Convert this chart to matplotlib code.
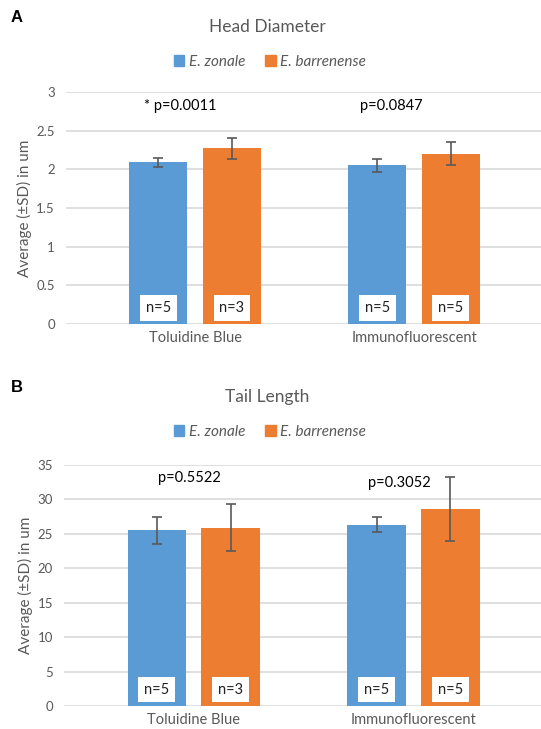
import numpy as np
import matplotlib.pyplot as plt
from matplotlib.patches import Patch
import matplotlib.transforms as mtransforms

plt.rcParams['font.family'] = ['Lato', 'DejaVu Sans']

groups = ['Toluidine Blue', 'Immunofluorescent']
species = ['E. zonale', 'E. barrenense']
colors = ['#5B9BD5', '#ED7D31']

# panel A: head diameter
head_mean = [[2.09, 2.05], [2.27, 2.20]]
head_sd = [[0.06, 0.09], [0.13, 0.15]]
head_n = [['n=5', 'n=5'], ['n=3', 'n=5']]
head_p = ['* p=0.0011', 'p=0.0847']

# panel B: tail length
tail_mean = [[25.5, 26.3], [25.9, 28.6]]
tail_sd = [[2.0, 1.1], [3.4, 4.6]]
tail_n = [['n=5', 'n=5'], ['n=3', 'n=5']]
tail_p = ['p=0.5522', 'p=0.3052']

grey = '#595959'
fig = plt.figure(figsize=(5.41, 7.29), dpi=100)
W, H = 541, 729


def px_axes(left, top, right, bottom):
    return fig.add_axes([left / W, 1 - bottom / H, (right - left) / W, (bottom - top) / H])


def panel(ax, means, sds, ns, pvals, ymax, ystep, p_pos, title, letter, title_y, leg_y):
    x = np.arange(len(groups))
    off = 0.168
    bw = 0.265
    for i in range(2):
        xs = x + (i * 2 - 1) * off
        ax.bar(xs, means[i], bw, color=colors[i], zorder=2)
        ax.errorbar(xs, means[i], yerr=sds[i], fmt='none', ecolor=grey,
                    elinewidth=1.2, capsize=3.5, capthick=1.2, zorder=3)
        trans = mtransforms.blended_transform_factory(ax.transData, ax.transAxes)
        for xx, lab in zip(xs, ns[i]):
            ax.text(xx, 0.068, lab, transform=trans, ha='center', va='center',
                    fontsize=10.5, color='#222222', zorder=4,
                    bbox=dict(boxstyle='square,pad=0.4', fc='white', ec='none'))
    for (px, py), lab in zip(p_pos, pvals):
        ax.text(px, py, lab, ha='center', va='center', fontsize=10.5, color='black', zorder=5)
    ax.set_xlim(-0.59, 1.58)
    ax.set_ylim(0, ymax)
    ax.set_yticks(np.arange(0, ymax + ystep / 2, ystep))
    ax.set_yticklabels(['%g' % v for v in np.arange(0, ymax + ystep / 2, ystep)])
    ax.yaxis.grid(True, color='#D9D9D9', lw=1.2, zorder=0)
    ax.set_axisbelow(True)
    for s in ax.spines.values():
        s.set_visible(False)
    ax.tick_params(axis='y', length=0, labelsize=9.5, labelcolor=grey, pad=8)
    ax.tick_params(axis='x', length=0, labelsize=10.5, labelcolor=grey, pad=5)
    ax.set_xticks(x)
    ax.set_xticklabels(groups)
    ax.set_ylabel('Average (±SD) in um', fontsize=11, color=grey, labelpad=3)
    fig.text(267 / W, 1 - title_y / H, title, ha='center', va='center', fontsize=12.5, color=grey)
    fig.text(17 / W, 1 - (title_y - 10) / H, letter, ha='center', va='center',
             fontsize=12, fontweight='bold', family='Liberation Sans', color='black')
    handles = [Patch(color=c) for c in colors]
    ax.legend(handles, species, loc='center', bbox_to_anchor=(270 / W, 1 - leg_y / H),
              bbox_transform=fig.transFigure, ncol=2, frameon=False,
              prop={'style': 'italic', 'size': 11}, labelcolor=grey,
              handlelength=0.7, handleheight=0.7, handletextpad=0.3, columnspacing=1.3)


axA = px_axes(66, 92, 541, 324)
panel(axA, head_mean, head_sd, head_n, head_p, 3, 0.5,
      [(-0.07, 2.82), (0.895, 2.82)], 'Head Diameter', 'A', 27, 62)

axB = px_axes(64, 465, 541, 706)
panel(axB, tail_mean, tail_sd, tail_n, tail_p, 35, 5,
      [(-0.02, 33.1), (0.936, 32.4)], 'Tail Length', 'B', 397, 432)

fig.savefig('out.png', dpi=100)
